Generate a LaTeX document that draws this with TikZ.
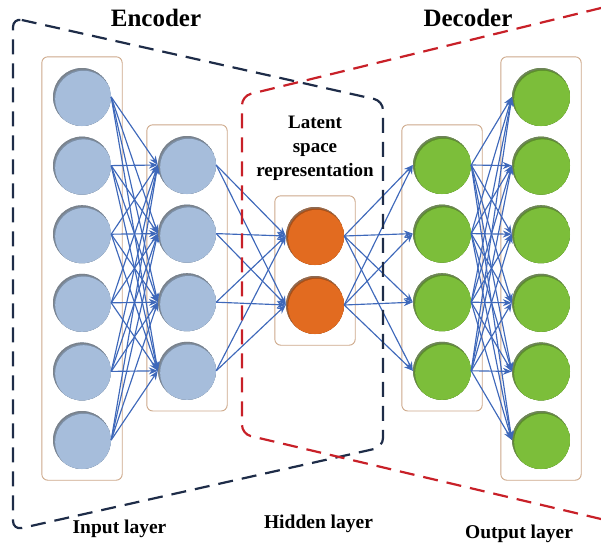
\documentclass[tikz,border=0pt]{standalone}
\usepackage{fontspec}
\setmainfont{Liberation Serif}
\usetikzlibrary{arrows.meta, positioning, fit, backgrounds, calc}

\definecolor{inblue}{RGB}{166,189,219}
\definecolor{latorange}{RGB}{226,107,32}
\definecolor{outgreen}{RGB}{124,190,58}
\definecolor{boxtan}{RGB}{205,168,138}
\definecolor{linkblue}{RGB}{62,104,186}
\definecolor{encnavy}{RGB}{30,44,72}
\definecolor{decred}{RGB}{200,32,40}

\begin{document}
\begin{tikzpicture}[
    x=1pt, y=1pt,
    >=Stealth,
    % neurons with a soft inner shadow
    neuron/.style={circle, minimum size=58pt, inner sep=0pt, fill=#1,
        path picture={
            \fill[#1!40!black!70] (path picture bounding box.center) circle (29pt);
            \fill[#1!75!black] ($(path picture bounding box.center)+(0.8pt,-1.1pt)$) circle (28.6pt);
            \fill[#1] ($(path picture bounding box.center)+(1.6pt,-2.2pt)$) circle (28.4pt);
        }},
    layerbox/.style={draw=boxtan, rounded corners=6pt, line width=0.9pt, inner sep=11pt},
    link/.style={-{Stealth[length=9pt,width=7pt]}, line width=1.15pt, color=linkblue},
    encline/.style={dash pattern=on 15pt off 9pt, line width=2.2pt, color=encnavy, rounded corners=9pt},
    decline/.style={dash pattern=on 15pt off 9pt, line width=2.2pt, color=decred, rounded corners=9pt},
    titletext/.style={font=\fontsize{25}{30}\selectfont\bfseries, anchor=base},
    layername/.style={font=\fontsize{19.5}{24}\selectfont\bfseries, anchor=base}
]
\useasboundingbox (0,0) rectangle (601,-544);

% ========== Neurons ==========
\foreach \i in {1,...,6}
    \node[neuron=inblue] (in\i) at (82, {-97-68.6*(\i-1)}) {};
\foreach \i in {1,...,4}
    \node[neuron=inblue] (hid\i) at (187, {-165-68.6*(\i-1)}) {};
\node[neuron=latorange] (lat1) at (315, -236) {};
\node[neuron=latorange] (lat2) at (315, -305) {};
\foreach \i in {1,...,4}
    \node[neuron=outgreen] (dec\i) at (442, {-165-68.6*(\i-1)}) {};
\foreach \i in {1,...,6}
    \node[neuron=outgreen] (out\i) at (541, {-97-68.6*(\i-1)}) {};

% ========== Layer boxes ==========
\begin{scope}[on background layer]
    \node[layerbox, fit=(in1) (in6)] (inbox) {};
    \node[layerbox, fit=(hid1) (hid4)] (hidbox) {};
    \node[layerbox, fit=(lat1) (lat2)] (latbox) {};
    \node[layerbox, fit=(dec1) (dec4)] (decbox) {};
    \node[layerbox, fit=(out1) (out6)] (outbox) {};
\end{scope}

% ========== Connections ==========
\foreach \i in {1,...,6}
    \foreach \j in {1,...,4}
        \draw[link] (in\i.east) -- (hid\j.west);
\foreach \i in {1,...,4}
    \foreach \j in {1,2}
        \draw[link] (hid\i.east) -- (lat\j.west);
\foreach \i in {1,2}
    \foreach \j in {1,...,4}
        \draw[link] (lat\i.east) -- (dec\j.west);
\foreach \i in {1,...,4}
    \foreach \j in {1,...,6}
        \draw[link] (dec\i.east) -- (out\j.west);

% ========== Encoder / Decoder outlines ==========
\coordinate (encTL) at (13,-18);
\coordinate (encTR) at (383,-101);
\coordinate (encBR) at (383,-447);
\coordinate (encBL) at (13,-530);
\draw[encline] (encTL) -- (encTR) -- (encBR) -- (encBL) -- cycle;

\coordinate (decTR) at (601,-8);
\coordinate (decTL) at (242,-96);
\coordinate (decBL) at (242,-434);
\coordinate (decBR) at (601,-519);
\draw[decline] (decTR) -- (decTL) -- (decBL) -- (decBR);

% ========== Labels ==========
\node[titletext] (enclabel) at (156,-26) {Encoder};
\node[titletext] (declabel) at (468,-26) {Decoder};
\node[font=\fontsize{19}{24}\selectfont\bfseries, align=center] (latlabel) at (315,-148)
    {Latent\\space\\representation};
\node[layername] (inlabel) at (119.5,-533) {Input layer};
\node[layername] (hidlabel) at (318.5,-528) {Hidden layer};
\node[layername] (outlabel) at (519,-538) {Output layer};

\end{tikzpicture}
\end{document}
